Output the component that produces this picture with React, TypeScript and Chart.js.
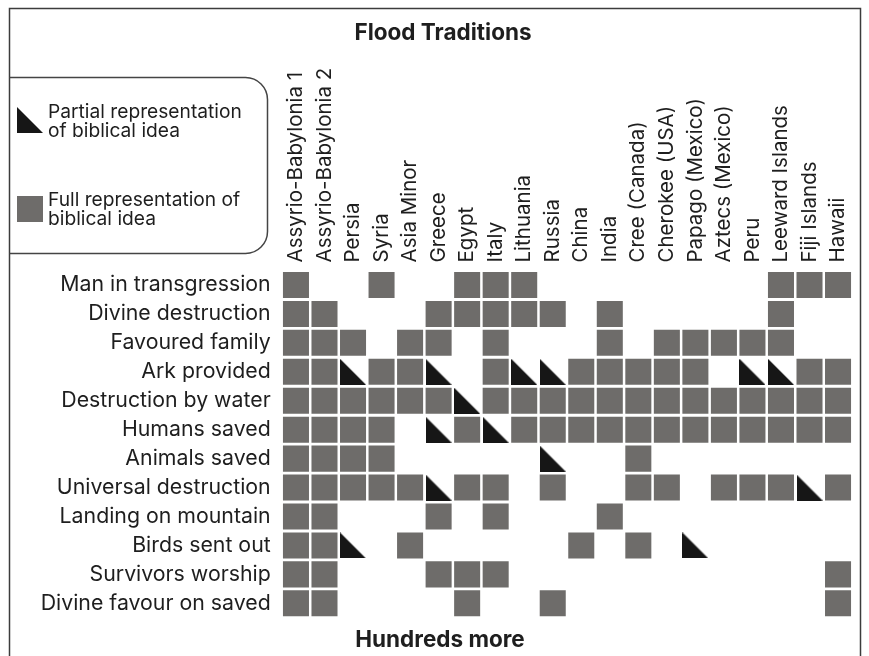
import { useEffect, useRef } from 'react';
import { Chart, registerables } from 'chart.js';

Chart.register(...registerables);

const cultures: string[] = [
  'Assyrio-Babylonia 1', 'Assyrio-Babylonia 2', 'Persia', 'Syria', 'Asia Minor',
  'Greece', 'Egypt', 'Italy', 'Lithuania', 'Russia', 'China', 'India',
  'Cree (Canada)', 'Cherokee (USA)', 'Papago (Mexico)', 'Aztecs (Mexico)', 'Peru',
  'Leeward Islands', 'Fiji Islands', 'Hawaii',
];

const elements: string[] = [
  'Man in transgression', 'Divine destruction', 'Favoured family', 'Ark provided',
  'Destruction by water', 'Humans saved', 'Animals saved', 'Universal destruction',
  'Landing on mountain', 'Birds sent out', 'Survivors worship', 'Divine favour on saved',
];

// column indices (into cultures) with a full representation, one list per element row
const fullByRow: number[][] = [
  [0, 3, 6, 7, 8, 17, 18, 19],
  [0, 1, 5, 6, 7, 8, 9, 11, 17],
  [0, 1, 2, 4, 5, 7, 11, 13, 14, 15, 16, 17],
  [0, 1, 3, 4, 7, 10, 11, 12, 13, 14, 18, 19],
  [0, 1, 2, 3, 4, 5, 7, 8, 9, 10, 11, 12, 13, 14, 15, 16, 17, 18, 19],
  [0, 1, 2, 3, 6, 8, 9, 10, 11, 12, 13, 14, 15, 16, 17, 18, 19],
  [0, 1, 2, 3, 12],
  [0, 1, 2, 3, 4, 6, 7, 9, 12, 13, 15, 16, 17, 19],
  [0, 1, 5, 7, 11],
  [0, 1, 4, 10, 12],
  [0, 1, 5, 6, 7, 19],
  [0, 1, 6, 9, 19],
];

// column indices with a partial representation, one list per element row
const partialByRow: number[][] = [
  [], [], [], [2, 5, 8, 9, 16, 17], [6], [5, 7], [9], [5, 18], [], [2, 14], [], [],
];

const TITLE = 'Flood Traditions';
const FOOTER = 'Hundreds more';
const LEGEND_PARTIAL = ['Partial representation', 'of biblical idea'];
const LEGEND_FULL = ['Full representation of', 'biblical idea'];

const GRAY = '#6e6c6a';
const BLACK = '#161616';
const TEXT = '#1e1e1e';
const FONT = 'Inter';
const COL_FONT_SIZE = 20.5;
const COL_LINE_HEIGHT = 1.2;

const toPoints = (rows: number[][]) =>
  rows.flatMap((cols, r) => cols.map((c) => ({ x: cultures[c], y: elements[r] })));

const fullPoints = toPoints(fullByRow);
const partialPoints = toPoints(partialByRow);

function cellSide(chart: any): number {
  const xs = chart.scales.x;
  const ys = chart.scales.y;
  if (!xs || !ys) return 26;
  const px = Math.abs(xs.getPixelForValue(1) - xs.getPixelForValue(0));
  const py = Math.abs(ys.getPixelForValue(1) - ys.getPixelForValue(0));
  return Math.min(px, py) - 2.5;
}

const triCache: Record<number, HTMLCanvasElement> = {};
function triangle(size: number): HTMLCanvasElement {
  const n = Math.max(2, Math.round(size));
  if (triCache[n]) return triCache[n];
  const c = document.createElement('canvas');
  c.width = n;
  c.height = n;
  const g = c.getContext('2d')!;
  g.fillStyle = BLACK;
  g.beginPath();
  g.moveTo(0, 0);
  g.lineTo(0, n);
  g.lineTo(n, n);
  g.closePath();
  g.fill();
  triCache[n] = c;
  return c;
}

const decorPlugin = {
  id: 'decor',
  afterDraw(chart: any) {
    const ctx = chart.ctx as CanvasRenderingContext2D;
    ctx.save();
    // frame
    ctx.strokeStyle = '#3c3c3c';
    ctx.lineWidth = 1.5;
    ctx.beginPath();
    ctx.moveTo(9.5, 656);
    ctx.lineTo(9.5, 8.5);
    ctx.lineTo(860.5, 8.5);
    ctx.lineTo(860.5, 656);
    ctx.stroke();
    // legend box
    ctx.strokeStyle = '#444';
    ctx.beginPath();
    ctx.moveTo(9.5, 77.5);
    ctx.lineTo(245, 77.5);
    ctx.arcTo(267.5, 77.5, 267.5, 100, 22);
    ctx.lineTo(267.5, 231);
    ctx.arcTo(267.5, 253.5, 245, 253.5, 22);
    ctx.lineTo(9.5, 253.5);
    ctx.stroke();
    // legend markers
    ctx.fillStyle = BLACK;
    ctx.beginPath();
    ctx.moveTo(17, 107);
    ctx.lineTo(17, 133);
    ctx.lineTo(43, 133);
    ctx.closePath();
    ctx.fill();
    ctx.fillStyle = GRAY;
    ctx.fillRect(17, 196, 26, 26);
    // legend text
    ctx.fillStyle = TEXT;
    ctx.font = `19.2px ${FONT}`;
    ctx.textAlign = 'left';
    ctx.textBaseline = 'middle';
    ctx.fillText(LEGEND_PARTIAL[0], 48, 112);
    ctx.fillText(LEGEND_PARTIAL[1], 48, 131);
    ctx.fillText(LEGEND_FULL[0], 48, 200);
    ctx.fillText(LEGEND_FULL[1], 48, 219);
    // title and footer
    ctx.font = `bold 22.5px ${FONT}`;
    ctx.textAlign = 'center';
    ctx.fillText(TITLE, 443, 33);
    ctx.fillText(FOOTER, 440, 640);
    ctx.restore();
  },
};

export default function App() {
  const ref = useRef<HTMLCanvasElement | null>(null);

  useEffect(() => {
    if (!ref.current) return;
    const chart = new Chart(ref.current, {
      type: 'scatter',
      data: {
        datasets: [
          {
            label: 'Full representation of biblical idea',
            data: fullPoints,
            pointStyle: 'rect',
            pointBackgroundColor: GRAY,
            pointBorderWidth: 0,
            pointRadius: (c: any) => cellSide(c.chart) / Math.SQRT2,
            pointHoverRadius: (c: any) => cellSide(c.chart) / Math.SQRT2,
          } as any,
          {
            label: 'Partial representation of biblical idea',
            data: partialPoints,
            pointStyle: (c: any) => triangle(cellSide(c.chart)),
            pointBackgroundColor: BLACK,
            pointBorderWidth: 0,
            pointRadius: (c: any) => cellSide(c.chart) / 2,
            pointHoverRadius: (c: any) => cellSide(c.chart) / 2,
          } as any,
        ],
      },
      options: {
        animation: false,
        responsive: false,
        devicePixelRatio: 1,
        events: [],
        layout: { padding: { left: 0, right: 16.7, top: 0, bottom: 38.2 } },
        plugins: {
          legend: { display: false },
          tooltip: { enabled: false },
          title: { display: false },
        },
        scales: {
          x: {
            type: 'category',
            labels: cultures,
            position: 'top',
            offset: true,
            grid: { display: false, drawTicks: false },
            border: { display: false },
            ticks: {
              autoSkip: false,
              maxRotation: 90,
              minRotation: 90,
              padding: 8,
              labelOffset: COL_FONT_SIZE * COL_LINE_HEIGHT,
              color: TEXT,
              font: { family: FONT, size: COL_FONT_SIZE, lineHeight: COL_LINE_HEIGHT },
            },
            afterFit: (s: any) => {
              s.height = 270.5;
            },
          },
          y: {
            type: 'category',
            labels: elements,
            position: 'left',
            offset: true,
            grid: { display: false, drawTicks: false },
            border: { display: false },
            ticks: {
              autoSkip: false,
              padding: 11,
              color: TEXT,
              font: { family: FONT, size: 21.3 },
            },
            afterFit: (s: any) => {
              s.width = 281.7;
            },
          },
        },
      } as any,
      plugins: [decorPlugin],
    });
    return () => chart.destroy();
  }, []);

  return (
    <div style={{ position: 'absolute', left: 0, top: 0, width: 869, height: 656, background: '#fff' }}>
      <canvas ref={ref} width={869} height={656} />
    </div>
  );
}
